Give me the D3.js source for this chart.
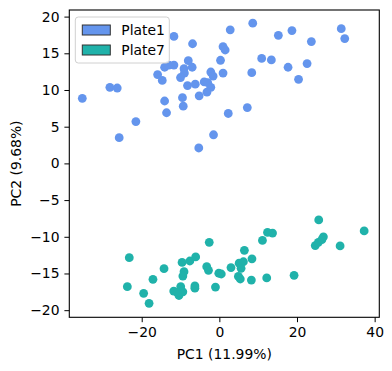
<!DOCTYPE html>
<html>
<head>
<meta charset="utf-8">
<script src="https://cdn.jsdelivr.net/npm/d3@7"></script>
<style>
  body { margin: 0; background: #fff; }
  text { font-family: "DejaVu Sans", sans-serif; }
</style>
</head>
<body>
<div id="chart"></div>
<script>
// PCA scores per plate
const plate1X = [-35.3, -28.2, -26.3, -25.8, -21.5, -11.7, -15.9, -14.7, -14.1, -13.0, -11.7, -14.1, -13.6,
  -8.0, -6.9, -9.1, -7.0, -9.0, -10.0, -8.2, -6.2, -9.5, -9.3, -5.2, -3.9, -2.2, -1.6, -3.0, -2.2, -3.2,
  -1.5, -5.3, 0.3, 0.95, 1.5, 0.95, 2.8, 2.3, 7.2, 8.35, 8.6, 10.9, 13.4, 15.2, 17.7, 18.7, 20.4, 22.6,
  23.7, 31.4, 32.3];
const plate1Y = [8.87, 10.37, 10.27, 3.5, 5.7, 17.3, 12.1, 11.3, 13.1, 13.4, 13.4, 8.5, 6.9,
  14.0, 16.3, 12.9, 13.1, 12.3, 11.7, 10.6, 10.8, 8.95, 7.8, 9.2, 11.1, 12.45, 11.9, 11.0, 10.37, 9.7,
  3.9, 2.1, 14.05, 15.9, 15.45, 12.3, 18.2, 6.8, 7.6, 12.36, 19.1, 14.3, 14.1, 17.45, 13.1, 18.1, 11.45, 13.6,
  16.6, 18.35, 17.0];

const plate7X = [-23.2, -23.7, -19.5, -18.1, -17.1, -14.25, -9.6, -7.6, -6.1, -9.1, -9.4, -11.75, -9.95,
  -10.4, -9.4, -10.8, -6.3, -6.3, -2.6, -3.25, -2.8, -1.0, -0.15, 0.5, 3.0, 5.1, 6.2, 6.45, 8.4, 5.6,
  4.9, 5.4, 8.25, 11.1, 12.4, 13.7, 12.2, 19.25, 25.6, 24.7, 25.5, 26.8, 26.4, 31.1, 37.3];
const plate7Y = [-12.85, -16.8, -17.7, -19.06, -15.8, -14.35, -13.5, -13.3, -12.75, -14.75, -15.35, -17.4, -16.8,
  -18.0, -17.5, -17.6, -16.7, -17.0, -10.75, -14.07, -14.57, -16.85, -14.97, -15.07, -14.2, -13.6, -13.4, -11.85, -13.0, -14.3,
  -15.4, -15.75, -15.9, -10.5, -9.4, -9.5, -15.6, -15.25, -7.7, -11.2, -10.75, -10.0, -10.4, -11.25, -9.2];

const groups = ["Plate1", "Plate7"];
const colors = ["#6495ED", "#20B2AA"];
const xTicks = [-20, 0, 20, 40];
const yTicks = [-20, -15, -10, -5, 0, 5, 10, 15, 20];

const width = 392, height = 371;
const margin = { top: 10, right: 12.7, bottom: 53.7, left: 69.3 };
const w = width - margin.left - margin.right;
const h = height - margin.top - margin.bottom;

const svg = d3.select("#chart")
  .append("svg")
  .attr("width", width)
  .attr("height", height);

const g = svg.append("g")
  .attr("transform", `translate(${margin.left},${margin.top})`);

const x = d3.scaleLinear().domain([-38.65, 41.2]).range([0, w]);
const y = d3.scaleLinear().domain([-20.97, 20.9]).range([h, 0]);

// points
const series = [
  plate1X.map((v, i) => [v, plate1Y[i]]),
  plate7X.map((v, i) => [v, plate7Y[i]])
];
series.forEach((pts, k) => {
  g.append("g").selectAll("circle")
    .data(pts)
    .enter()
    .append("circle")
    .attr("cx", d => x(d[0]))
    .attr("cy", d => y(d[1]))
    .attr("r", 4.4)
    .attr("fill", colors[k]);
});

// axes
const xAxis = g.append("g")
  .attr("transform", `translate(0,${h})`)
  .call(d3.axisBottom(x).tickValues(xTicks).tickSize(4.9).tickPadding(4.9)
    .tickFormat(d => d3.format("d")(d).replace("-", "\u2212")));
const yAxis = g.append("g")
  .call(d3.axisLeft(y).tickValues(yTicks).tickSize(4.9).tickPadding(4.9)
    .tickFormat(d => d3.format("d")(d).replace("-", "\u2212")));

[xAxis, yAxis].forEach(a => {
  a.select(".domain").remove();
  a.selectAll("line").attr("stroke", "#000").attr("stroke-width", 1);
  a.selectAll("text").attr("font-size", "13.9px").attr("fill", "#000")
    .style("font-family", "DejaVu Sans, sans-serif");
});

// frame
g.append("rect")
  .attr("width", w)
  .attr("height", h)
  .attr("fill", "none")
  .attr("stroke", "#000")
  .attr("stroke-width", 1.1);

// axis labels
svg.append("text")
  .attr("x", margin.left + w / 2)
  .attr("y", 359)
  .attr("text-anchor", "middle")
  .attr("font-size", "13.9px")
  .text("PC1 (11.99%)");

svg.append("text")
  .attr("transform", `translate(21,${margin.top + h / 2}) rotate(-90)`)
  .attr("text-anchor", "middle")
  .attr("font-size", "13.9px")
  .text("PC2 (9.68%)");

// legend
const legend = g.append("g").attr("transform", "translate(6,7)");
legend.append("rect")
  .attr("width", 94)
  .attr("height", 46)
  .attr("rx", 3)
  .attr("fill", "#fff")
  .attr("fill-opacity", 0.8)
  .attr("stroke", "#d0d0d0");

groups.forEach((name, i) => {
  const row = legend.append("g").attr("transform", `translate(7,${8 + i * 20})`);
  row.append("rect")
    .attr("width", 28)
    .attr("height", 10)
    .attr("fill", colors[i])
    .attr("stroke", "#333")
    .attr("stroke-width", 1);
  row.append("text")
    .attr("x", 39)
    .attr("y", 10)
    .attr("font-size", "13.9px")
    .text(name);
});
</script>
</body>
</html>
